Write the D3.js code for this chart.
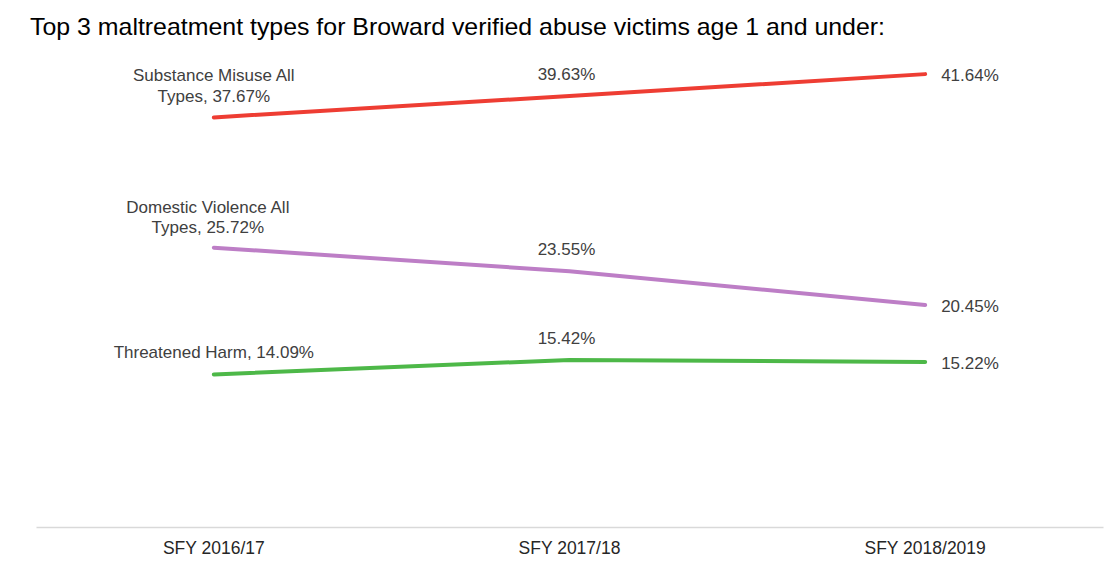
<!DOCTYPE html>
<html><head><meta charset="utf-8">
<script src="https://cdn.jsdelivr.net/npm/d3@7"></script>
<style>body{margin:0;background:#fff}svg{display:block}</style>
</head><body>
<script>
const categories = ["SFY 2016/17", "SFY 2017/18", "SFY 2018/2019"];
const seriesNames = ["Substance Misuse All Types", "Domestic Violence All Types", "Threatened Harm"];
const substance = [37.67, 39.63, 41.64];
const domestic = [25.72, 23.55, 20.45];
const threatened = [14.09, 15.42, 15.22];
const colors = ["#EE3D33", "#BD7EC6", "#4DB848"];
const title = "Top 3 maltreatment types for Broward verified abuse victims age 1 and under:";

const W = 1111, H = 561;
const svg = d3.select("body").append("svg").attr("width", W).attr("height", H);

const x = d3.scaleBand().domain(categories).range([36, 1103]);
const cx = c => x(c) + x.bandwidth() / 2;
const y = d3.scaleLinear().domain([0, 45]).range([528, 37.5]);

// title
svg.append("text").attr("x", 30).attr("y", 35)
  .attr("font-family", "'Liberation Sans Narrow', 'Liberation Sans', Arial, sans-serif")
  .attr("font-size", 24).attr("fill", "#000")
  .attr("textLength", 855).attr("lengthAdjust", "spacingAndGlyphs")
  .text(title);

// axis
const axis = d3.axisBottom(x).tickSize(0).tickPadding(15);
const gA = svg.append("g").attr("transform", "translate(0,527)").call(axis);
gA.select(".domain").attr("stroke", "#d9d9d9").attr("stroke-width", 1.3);
gA.selectAll("text")
  .attr("font-family", "'Liberation Sans Narrow', 'Liberation Sans', Arial, sans-serif")
  .attr("font-size", 17.5).attr("fill", "#262626");

const data = [substance, domestic, threatened];
const line = d3.line().x((d, i) => cx(categories[i])).y(d => y(d));
data.forEach((s, k) => {
  svg.append("path").datum(s).attr("d", line)
    .attr("fill", "none").attr("stroke", colors[k]).attr("stroke-width", 4)
    .attr("stroke-linecap", "round").attr("stroke-linejoin", "round");
});

const fmt = v => v.toFixed(2) + "%";
const lab = (txt, xx, yy, anchor) => svg.append("text").attr("x", xx).attr("y", yy)
  .attr("text-anchor", anchor).attr("font-family", "'Liberation Sans', Arial, sans-serif")
  .attr("font-size", 17).attr("fill", "#404040").text(txt);

// first-point labels (series name + value)
lab("Substance Misuse All", cx(categories[0]), y(substance[0]) - 36, "middle");
lab("Types, " + fmt(substance[0]), cx(categories[0]), y(substance[0]) - 15, "middle");
lab("Domestic Violence All", cx(categories[0]) - 6, y(domestic[0]) - 35, "middle");
lab("Types, " + fmt(domestic[0]), cx(categories[0]) - 6, y(domestic[0]) - 15, "middle");
lab("Threatened Harm, " + fmt(threatened[0]), cx(categories[0]), y(threatened[0]) - 16, "middle");

// middle labels
lab(fmt(substance[1]), cx(categories[1]) - 3, y(substance[1]) - 16, "middle");
lab(fmt(domestic[1]), cx(categories[1]) - 3, y(domestic[1]) - 16, "middle");
lab(fmt(threatened[1]), cx(categories[1]) - 3, y(threatened[1]) - 16, "middle");

// end labels
lab(fmt(substance[2]), cx(categories[2]) + 16, y(substance[2]) + 7, "start");
lab(fmt(domestic[2]), cx(categories[2]) + 16, y(domestic[2]) + 7, "start");
lab(fmt(threatened[2]), cx(categories[2]) + 16, y(threatened[2]) + 7, "start");
</script>
</body></html>
